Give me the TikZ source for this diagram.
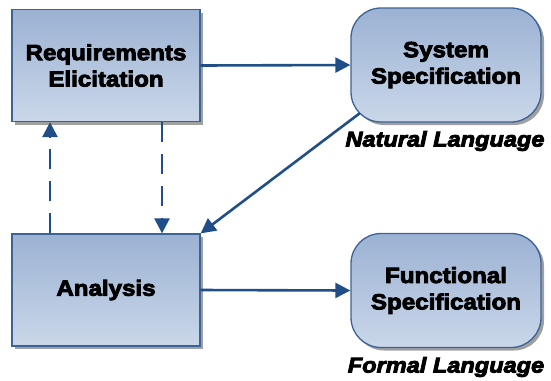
\documentclass[tikz,border=0pt]{standalone}
\usepackage{fontspec}
\setmainfont{Liberation Sans}
\newfontfamily\lblfont[FakeStretch=1.1,FakeBold=4]{Liberation Sans Bold}
\newfontfamily\capfont[FakeStretch=1.1,FakeBold=4]{Liberation Sans Bold Italic}
\usetikzlibrary{arrows.meta,shadows,calc}
\definecolor{boxtop}{RGB}{155,178,211}
\definecolor{boxbot}{RGB}{202,215,233}
\definecolor{boxline}{RGB}{60,98,150}
\definecolor{arrowc}{RGB}{31,78,137}
\definecolor{shadowc}{RGB}{160,160,160}
\tikzset{
  box/.style={draw=boxline, line width=1.3bp, top color=boxtop, bottom color=boxbot,
    minimum width=188bp, minimum height=112bp, inner sep=0pt, align=center,
    font=\lblfont\fontsize{22}{26.5}\selectfont,
    drop shadow={shadow xshift=3bp, shadow yshift=-3bp, fill=shadowc, opacity=1}},
  rbox/.style={box, rounded corners=30bp, minimum width=190bp, minimum height=114bp},
  conn/.style={draw=arrowc, line width=2.6bp, -{Triangle[length=15bp,width=15bp]}},
  dconn/.style={conn, dash pattern=on 20bp off 12bp},
  caption/.style={font=\capfont\fontsize{21.5}{24}\selectfont, inner sep=0pt}
}
\begin{document}
\begin{tikzpicture}[x=1bp,y=-1bp]
\useasboundingbox (0,0) rectangle (551,380);
\node[box] (req) at (106,65.5) {Requirements\\Elicitation};
\node[box] (ana) at (106,290) {Analysis};
\node[rbox] (sys) at (446,65) {System\\Specification};
\node[rbox] (fun) at (446,290.5) {Functional\\Specification};
\node[caption] (nl) at (445,141) {Natural Language};
\node[caption] (fl) at (446,367) {Formal Language};
\coordinate (u) at (50,0);
\coordinate (d) at (162,0);
\coordinate (sc) at ($(sys.south west)+(9.5,-9.5)$);
\draw[conn] (req.east) -- (sys.west);
\draw[conn] (ana.east) -- (fun.west);
\draw[conn] (sc) -- (ana.north east);
\draw[dconn] (u |- ana.north) -- (u |- req.south);
\draw[dconn] (d |- req.south) -- (d |- ana.north);
\end{tikzpicture}
\end{document}
